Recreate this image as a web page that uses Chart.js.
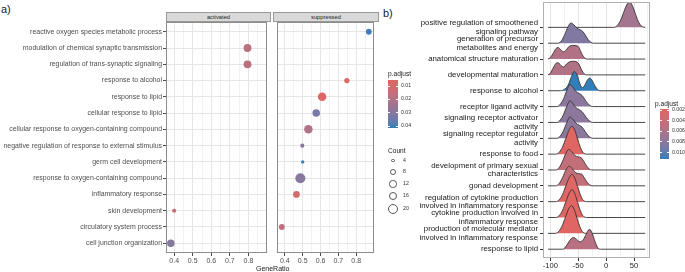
<!doctype html>
<html lang="en">
<head>
  <meta charset="utf-8">
  <title>GO enrichment: dot plot and ridge plot</title>
  <style>
* {
  margin: 0;
  padding: 0;
  font-family: 'Liberation Sans', Arial, sans-serif;
}
body {
  width: 685px;
  height: 272px;
  position: relative;
  overflow: hidden;
  background: white;
}
.box { position: absolute; }
.txt {
  position: absolute;
  white-space: nowrap;
  line-height: 1;
  transform: translateY(-50%);
  color: #1a1a1a;
}
.strip {
  position: absolute;
  box-sizing: border-box;
  background: #d9d9d9;
  border: 1px solid #999;
  font-size: 5.8px;
  color: #1a1a1a;
  text-align: center;
  line-height: 8px;
}
  </style>
</head>
<body>
  <div class="txt" style="left:1px; top:9px; font-size:11px;">a)</div>
  <div class="txt" style="left:383px; top:13px; font-size:11px;">b)</div>

  <div class="strip" style="left:166px; top:12px; width:105px; height:10px;">activated</div>
  <div class="strip" style="left:273px; top:12px; width:106px; height:10px;">suppressed</div>

  <div class="box" style="left:0; top:0; width:271px; height:272px;"><canvas id="chartAct"></canvas></div>
  <div class="box" style="left:272px; top:0; width:107px; height:272px;"><canvas id="chartSup"></canvas></div>
  <div class="box" style="left:380px; top:0; width:305px; height:272px;"><canvas id="chartRidge"></canvas></div>

  <div class="txt" style="left:256px; top:268px; font-size:7px;">GeneRatio</div>
  <div id="legends"></div>

  <script src="https://cdn.jsdelivr.net/npm/chart.js"></script>
  <script>
    // ---- panel a data (dot plot) ----
    const goTerms = [
      'reactive oxygen species metabolic process',
      'modulation of chemical synaptic transmission',
      'regulation of trans-synaptic signaling',
      'response to alcohol',
      'response to lipid',
      'cellular response to lipid',
      'cellular response to oxygen-containing compound',
      'negative regulation of response to external stimulus',
      'germ cell development',
      'response to oxygen-containing compound',
      'inflammatory response',
      'skin development',
      'circulatory system process',
      'cell junction organization'
    ];
    const activatedRatio = [null, 0.795, 0.795, null, null, null, null, null, null, null, null, 0.400, null, 0.382];
    const activatedCount = [null, 13, 13, null, null, null, null, null, null, null, null, 5, null, 12];
    const activatedPadj  = [null, 0.018, 0.018, null, null, null, null, null, null, null, null, 0.013, null, 0.030];
    const suppressedRatio = [0.871, null, null, 0.748, 0.609, 0.576, 0.532, 0.498, 0.500, 0.487, 0.465, null, 0.383, null];
    const suppressedCount = [8, null, null, 7, 15, 12, 15, 5, 4, 20, 10, null, 8, null];
    const suppressedPadj  = [0.040, null, null, 0.008, 0.0055, 0.033, 0.020, 0.030, 0.0415, 0.030, 0.009, null, 0.016, null];
    const ratioTicks = [0.4, 0.45, 0.5, 0.55, 0.6, 0.65, 0.7, 0.75, 0.8, 0.85];
    const padjTicksA = [0.01, 0.02, 0.03, 0.04];
    const countTicks = [4, 8, 12, 16, 20];

    // ---- panel b data (ridge plot), top to bottom ----
    const ridgeTerms = [
      ['positive regulation of smoothened', 'signaling pathway'],
      ['generation of precursor', 'metabolites and energy'],
      'anatomical structure maturation',
      'developmental maturation',
      'response to alcohol',
      'receptor ligand activity',
      ['signaling receptor activator', 'activity'],
      ['signaling receptor regulator', 'activity'],
      'response to food',
      ['development of primary sexual', 'characteristics'],
      'gonad development',
      ['regulation of cytokine production', 'involved in inflammatory response'],
      ['cytokine production involved in', 'inflammatory response'],
      ['production of molecular mediator', 'involved in inflammatory response'],
      'response to lipid'
    ];
    const ridgePadj = [0.0065, 0.0085, 0.0055, 0.0055, 0.0112, 0.0080, 0.0080, 0.0080,
                       0.0018, 0.0042, 0.0042, 0.0018, 0.0018, 0.0018, 0.0050];
    // density outline knots [log2 fold change, height in row units]
    const ridgeProfiles = [
      [[-104,0],[14,0],[20,0.12],[26,0.45],[32,1.0],[37,1.42],[41,1.58],[45,1.5],[50,1.1],[55,0.6],[60,0.22],[65,0.04],[70,0]],
      [[-104,0],[-86,0],[-80,0.15],[-74,0.55],[-68,1.05],[-63,1.27],[-58,1.17],[-52,0.95],[-46,0.84],[-42,0.75],[-37,0.5],[-32,0.22],[-27,0.05],[-23,0],[70,0]],
      [[-104,0],[-100,0.08],[-95,0.35],[-90,0.65],[-86,0.73],[-81,0.58],[-76,0.45],[-71,0.6],[-66,0.8],[-60,0.86],[-54,0.85],[-49,0.75],[-45,0.45],[-41,0.17],[-37,0.03],[-34,0],[70,0]],
      [[-104,0],[-100,0.1],[-95,0.42],[-90,0.72],[-86,0.77],[-81,0.6],[-76,0.5],[-71,0.68],[-65,0.83],[-59,0.86],[-54,0.84],[-49,0.7],[-45,0.4],[-41,0.14],[-37,0.02],[-34,0],[70,0]],
      [[-104,0],[-82,0],[-75,0.08],[-68,0.35],[-62,0.9],[-57,1.22],[-52,1.0],[-47,0.45],[-43,0.2],[-39,0.3],[-34,0.65],[-29,0.8],[-25,0.65],[-20,0.3],[-15,0.07],[-11,0],[70,0]],
      [[-104,0],[-88,0],[-82,0.15],[-76,0.5],[-70,1.05],[-65,1.38],[-60,1.25],[-54,0.95],[-48,0.82],[-43,0.7],[-38,0.45],[-33,0.2],[-28,0.05],[-24,0],[70,0]],
      [[-104,0],[-88,0],[-82,0.15],[-76,0.52],[-70,1.05],[-65,1.36],[-60,1.22],[-54,0.93],[-48,0.8],[-43,0.68],[-38,0.44],[-33,0.2],[-28,0.05],[-24,0],[70,0]],
      [[-104,0],[-88,0],[-82,0.14],[-76,0.5],[-70,1.02],[-65,1.34],[-60,1.22],[-54,0.95],[-48,0.82],[-43,0.7],[-38,0.45],[-33,0.2],[-28,0.05],[-24,0],[70,0]],
      [[-104,0],[-90,0],[-84,0.12],[-78,0.45],[-72,1.0],[-66,1.55],[-61,1.76],[-56,1.5],[-51,0.95],[-46,0.42],[-42,0.13],[-38,0.02],[-35,0],[70,0]],
      [[-104,0],[-90,0],[-84,0.15],[-78,0.55],[-72,1.05],[-67,1.3],[-62,1.18],[-56,0.92],[-50,0.82],[-45,0.78],[-40,0.55],[-35,0.25],[-30,0.06],[-26,0],[70,0]],
      [[-104,0],[-90,0],[-84,0.15],[-78,0.52],[-72,1.0],[-66,1.24],[-61,1.1],[-55,0.85],[-49,0.76],[-44,0.74],[-39,0.5],[-34,0.22],[-29,0.05],[-25,0],[70,0]],
      [[-104,0],[-90,0],[-84,0.12],[-78,0.45],[-72,1.0],[-66,1.52],[-61,1.72],[-56,1.48],[-51,0.95],[-46,0.42],[-42,0.13],[-38,0.02],[-35,0],[70,0]],
      [[-104,0],[-90,0],[-84,0.12],[-78,0.45],[-72,1.0],[-66,1.55],[-61,1.76],[-56,1.5],[-51,0.95],[-46,0.42],[-42,0.13],[-38,0.02],[-35,0],[70,0]],
      [[-104,0],[-91,0],[-85,0.12],[-79,0.45],[-73,1.0],[-67,1.55],[-62,1.75],[-57,1.5],[-52,0.95],[-47,0.42],[-43,0.13],[-39,0.02],[-36,0],[70,0]],
      [[-104,0],[-78,0],[-73,0.12],[-67,0.45],[-62,0.68],[-58,0.74],[-53,0.62],[-47,0.47],[-42,0.55],[-37,0.85],[-32,1.2],[-29,1.24],[-25,1.0],[-20,0.5],[-16,0.15],[-13,0.02],[-10,0],[70,0]]
    ];
    const foldTicks = [-100, -75, -50, -25, 0, 25, 50, 75];
    const padjTicksB = [0.002, 0.004, 0.006, 0.008, 0.010];

    // ---- colour scale (low p = red, high p = blue, mixed in Lab like ggplot) ----
    const LOW = [224, 102, 99], HIGH = [50, 126, 186];
    function toLab(c) {
      const f = v => { v /= 255; return v <= 0.04045 ? v / 12.92 : Math.pow((v + 0.055) / 1.055, 2.4); };
      const R = f(c[0]), G = f(c[1]), B = f(c[2]);
      const h = t => t > 0.008856 ? Math.cbrt(t) : 7.787 * t + 16 / 116;
      const x = h((R * 0.4124 + G * 0.3576 + B * 0.1805) / 0.95047);
      const y = h(R * 0.2126 + G * 0.7152 + B * 0.0722);
      const z = h((R * 0.0193 + G * 0.1192 + B * 0.9505) / 1.08883);
      return [116 * y - 16, 500 * (x - y), 200 * (y - z)];
    }
    function fromLab(l) {
      let y = (l[0] + 16) / 116, x = l[1] / 500 + y, z = y - l[2] / 200;
      const h = t => t * t * t > 0.008856 ? t * t * t : (t - 16 / 116) / 7.787;
      x = h(x) * 0.95047; y = h(y); z = h(z) * 1.08883;
      const g = v => { v = v > 0.0031308 ? 1.055 * Math.pow(v, 1 / 2.4) - 0.055 : 12.92 * v; return Math.round(Math.min(1, Math.max(0, v)) * 255); };
      return [g(x * 3.2406 - y * 1.5372 - z * 0.4986), g(-x * 0.9689 + y * 1.8758 + z * 0.0415), g(x * 0.0557 - y * 0.2040 + z * 1.0570)];
    }
    const labLow = toLab(LOW), labHigh = toLab(HIGH);
    function padjColor(p, lo, hi) {
      const t = Math.min(1, Math.max(0, (p - lo) / (hi - lo)));
      const c = fromLab(labLow.map((v, i) => v + (labHigh[i] - v) * t));
      return 'rgb(' + c.join(',') + ')';
    }
    function gradientCss() {
      const stops = [];
      for (let i = 0; i <= 10; i++) stops.push(padjColor(i / 10, 0, 1) + ' ' + (i * 10) + '%');
      return 'linear-gradient(to bottom,' + stops.join(',') + ')';
    }
    const countRadius = n => Math.sqrt(1.38 * n - 2.6);

    const allPadjA = activatedPadj.concat(suppressedPadj).filter(v => v != null);
    const pMinA = Math.min(...allPadjA), pMaxA = Math.max(...allPadjA);
    const pMinB = Math.min(...ridgePadj), pMaxB = Math.max(...ridgePadj);

    const framePlugin = {
      id: 'frame',
      afterDraw(chart, args, opts) {
        const { ctx, chartArea: a } = chart;
        ctx.save();
        ctx.strokeStyle = opts.color;
        ctx.lineWidth = 1;
        ctx.strokeRect(a.left + 0.5, a.top + 0.5, a.right - a.left - 1, a.bottom - a.top - 1);
        ctx.restore();
      }
    };
    // keep the plot area fixed: no extra room for overhanging tick labels
    const noOverhang = s => { s.paddingTop = 0; s.paddingBottom = 0; s.paddingLeft = 0; s.paddingRight = 0; };

    // ---- panel a charts ----
    function dotChart(id, ratio, count, padj, showLabels, padLeft) {
      const points = [], colors = [];
      ratio.forEach((r, i) => {
        if (r == null) return;
        points.push({ x: r, y: i, r: countRadius(count[i]) });
        colors.push(padjColor(padj[i], pMinA, pMaxA));
      });
      return new Chart(document.getElementById(id), {
        type: 'bubble',
        data: { datasets: [{ data: points, backgroundColor: colors, borderWidth: 0 }] },
        plugins: [framePlugin],
        options: {
          responsive: true,
          maintainAspectRatio: false,
          animation: false,
          events: [],
          layout: { padding: { top: 22, left: padLeft, right: 0, bottom: 0 } },
          scales: {
            x: {
              type: 'linear',
              min: 0.356,
              max: 0.9,
              afterBuildTicks: s => { s.ticks = ratioTicks.map(v => ({ value: v })); },
              afterFit: s => { noOverhang(s); s.height = 19; },
              border: { display: false },
              grid: {
                color: c => (Math.round(c.tick.value * 100) % 10 === 0 ? '#e6e6e6' : '#f2f2f2'),
                tickColor: c => (Math.round(c.tick.value * 100) % 10 === 0 ? '#4d4d4d' : 'rgba(0,0,0,0)'),
                tickLength: 3
              },
              ticks: {
                padding: 1,
                maxRotation: 0,
                autoSkip: false,
                color: '#4d4d4d',
                font: { size: 7 },
                callback: v => (Math.round(v * 100) % 10 === 0 ? v.toFixed(1) : '')
              }
            },
            y: {
              type: 'linear',
              reverse: true,
              min: -0.6,
              max: goTerms.length - 0.4,
              afterBuildTicks: s => { s.ticks = goTerms.map((t, i) => ({ value: i })); },
              afterFit: s => { noOverhang(s); s.width = showLabels ? 166 : 0; },
              border: { display: false },
              grid: { color: '#e6e6e6', tickColor: '#4d4d4d', tickLength: 3, drawTicks: showLabels },
              ticks: {
                display: showLabels,
                padding: 1,
                autoSkip: false,
                color: '#4d4d4d',
                font: { size: 6.95 },
                callback: v => goTerms[v]
              }
            }
          },
          plugins: { legend: { display: false }, tooltip: { enabled: false }, frame: { color: '#8c8c8c' } }
        }
      });
    }
    dotChart('chartAct', activatedRatio, activatedCount, activatedPadj, true, 0);
    dotChart('chartSup', suppressedRatio, suppressedCount, suppressedPadj, false, 1);

    // ---- panel b ridge chart ----
    const nR = ridgeTerms.length;
    const ridgeSets = [];
    // bottom ridge first so it is painted last (on top)
    for (let i = nR - 1; i >= 0; i--) {
      const base = nR - 1 - i;
      ridgeSets.push({
        data: ridgeProfiles[i].map(p => ({ x: p[0], y: base + p[1] })),
        fill: { value: base },
        backgroundColor: padjColor(ridgePadj[i], pMinB, pMaxB),
        borderColor: '#333333',
        borderWidth: 0.9,
        pointRadius: 0,
        cubicInterpolationMode: 'monotone'
      });
    }
    new Chart(document.getElementById('chartRidge'), {
      type: 'line',
      data: { datasets: ridgeSets },
      plugins: [framePlugin],
      options: {
        responsive: true,
        maintainAspectRatio: false,
        animation: false,
        events: [],
        layout: { padding: { top: 2, left: 0, right: 35, bottom: 0 } },
        scales: {
          x: {
            type: 'linear',
            min: -113,
            max: 78.6,
            afterBuildTicks: s => { s.ticks = foldTicks.map(v => ({ value: v })); },
            afterFit: s => { noOverhang(s); s.height = 14; },
            border: { display: false },
            grid: {
              color: c => (c.tick.value % 50 === 0 ? '#e3e3e3' : '#f1f1f1'),
              tickColor: c => (c.tick.value % 50 === 0 ? '#333' : 'rgba(0,0,0,0)'),
              tickLength: 3
            },
            ticks: {
              padding: 0,
              maxRotation: 0,
              autoSkip: false,
              color: '#1a1a1a',
              font: { size: 7.6 },
              callback: v => (v % 50 === 0 ? String(v) : '')
            }
          },
          y: {
            type: 'linear',
            min: -0.555,
            max: 15.6,
            afterBuildTicks: s => { s.ticks = ridgeTerms.map((t, i) => ({ value: i })); },
            afterFit: s => { noOverhang(s); s.width = 163; },
            border: { display: false },
            grid: { drawOnChartArea: false, tickColor: '#333', tickLength: 3 },
            ticks: {
              padding: 2,
              autoSkip: false,
              color: '#1a1a1a',
              font: { size: 7.85, lineHeight: 1.1 },
              callback: v => ridgeTerms[nR - 1 - v]
            }
          }
        },
        plugins: {
          legend: { display: false },
          tooltip: { enabled: false },
          filler: { drawTime: 'beforeDatasetDraw' },
          frame: { color: '#b0b0b0' }
        }
      }
    });

    // ---- legends (html) ----
    const lg = document.getElementById('legends');
    function addText(txt, left, top, size, color) {
      const d = document.createElement('div');
      d.className = 'txt';
      d.textContent = txt;
      d.style.left = left + 'px';
      d.style.top = top + 'px';
      d.style.fontSize = size + 'px';
      if (color) d.style.color = color;
      lg.appendChild(d);
    }
    function addBar(left, top, w, h, ticks, lo, hi, labelX, digits) {
      const bar = document.createElement('div');
      bar.className = 'box';
      bar.style.cssText = 'left:' + left + 'px;top:' + top + 'px;width:' + w + 'px;height:' + h + 'px;background:' + gradientCss();
      lg.appendChild(bar);
      ticks.forEach(t => {
        const y = top + (t - lo) / (hi - lo) * h;
        const tk = document.createElement('div');
        tk.className = 'box';
        tk.style.cssText = 'left:' + left + 'px;top:' + (y - 0.5) + 'px;width:' + w + 'px;height:1px;' +
          'background:linear-gradient(to right,#fff 0,#fff 20%,transparent 20%,transparent 80%,#fff 80%)';
        lg.appendChild(tk);
        addText(t.toFixed(digits), labelX, y, 5.2, '#333');
      });
    }
    addText('p.adjust', 388, 74, 6.6);
    addBar(388, 80, 9.5, 48, padjTicksA, pMinA, pMaxA, 401, 2);
    addText('Count', 388, 151, 6.6);
    const countY = [160.5, 172, 184, 196, 208.5];
    countTicks.forEach((n, i) => {
      const r = countRadius(n);
      const c = document.createElement('div');
      c.className = 'box';
      c.style.cssText = 'left:' + (393 - r) + 'px;top:' + (countY[i] - r) + 'px;width:' + (2 * r) + 'px;height:' + (2 * r) +
        'px;box-sizing:border-box;border:0.8px solid #555;border-radius:50%';
      lg.appendChild(c);
      addText(String(n), 403, countY[i], 5.2, '#333');
    });
    addText('p.adjust', 655, 104, 6.6);
    addBar(660, 109, 8.5, 50, padjTicksB, pMinB, pMaxB, 672, 3);
  </script>
</body>
</html>
